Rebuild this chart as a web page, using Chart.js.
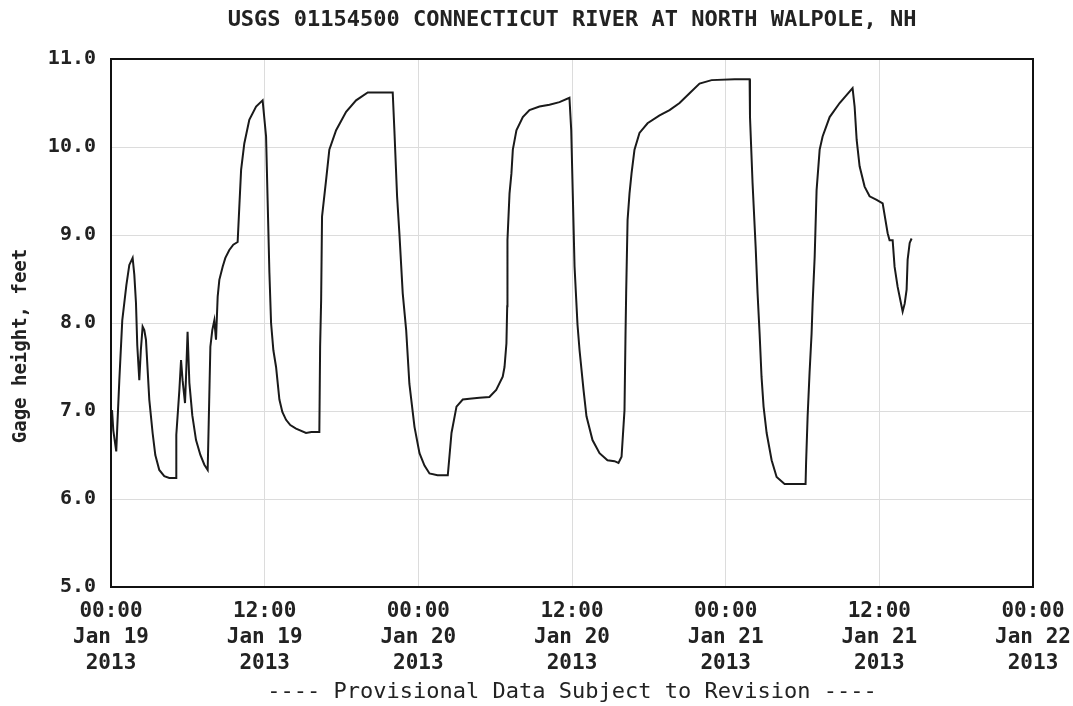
<!DOCTYPE html>
<html>
<head>
<meta charset="utf-8">
<script src="https://cdn.jsdelivr.net/npm/chart.js@4/dist/chart.umd.min.js"></script>
<style>
  html, body { margin: 0; padding: 0; background: #ffffff; }
  #wrap { width: 1073px; height: 706px; }
</style>
</head>
<body>
<div id="wrap"><canvas id="c" width="1073" height="706"></canvas></div>
<script>
// ---- Data (hours since 00:00 Jan 19 2013, gage height in feet) ----
const chartTitle = "USGS 01154500 CONNECTICUT RIVER AT NORTH WALPOLE, NH";
const yAxisTitle = "Gage height, feet";
const footerText = "---- Provisional Data Subject to Revision ----";

const hours = [
  0.08, 0.18, 0.41, 0.49, 0.65, 0.88, 1.2, 1.43, 1.69, 1.82, 1.95, 2.05, 2.21, 2.33, 2.47, 2.6, 2.73,
  2.99, 3.25, 3.46, 3.77, 4.16, 4.55, 5.08, 5.1, 5.34, 5.47, 5.59, 5.78, 5.88, 5.98, 6.12, 6.35, 6.64,
  6.98, 7.29, 7.55, 7.63, 7.76, 7.91, 8.07, 8.2, 8.33, 8.46, 8.72, 8.93, 9.24, 9.55, 9.89, 10.02, 10.16,
  10.41, 10.8, 11.33, 11.84, 12.11, 12.23, 12.37, 12.5, 12.68, 12.89, 13.15, 13.38, 13.67, 14.0, 14.45,
  15.23, 15.65, 16.27, 16.33, 16.41, 16.48, 16.8, 17.05, 17.58, 18.36, 19.14, 20.05, 22.0, 22.13, 22.34,
  22.52, 22.78, 23.05, 23.3, 23.7, 24.09, 24.48, 24.87, 25.5, 26.3, 26.59, 26.98, 27.47, 27.99, 28.77,
  29.55, 30.08, 30.59, 30.73, 30.88, 30.94, 30.96, 31.12, 31.27, 31.38, 31.66, 32.16, 32.68, 33.46,
  34.24, 35.02, 35.8, 35.94, 36.06, 36.2, 36.43, 36.59, 36.9, 37.13, 37.6, 38.15, 38.77, 39.32, 39.63,
  39.87, 40.1, 40.18, 40.23, 40.34, 40.49, 40.65, 40.88, 41.27, 41.9, 42.84, 43.62, 44.4, 45.18, 45.96,
  46.9, 48.7, 49.87, 49.9, 50.1, 50.34, 50.49, 50.65, 50.8, 50.96, 51.2, 51.59, 51.98, 52.6, 54.24,
  54.28, 54.4, 54.55, 54.71, 54.79, 54.95, 55.1, 55.34, 55.57, 56.12, 56.9, 57.91, 58.07, 58.23, 58.46,
  58.85, 59.24, 59.79, 60.26, 60.65, 60.8, 61.04, 61.19, 61.43, 61.82, 61.98, 62.13, 62.21, 62.37, 62.52
];

const gageHeight = [
  7.01, 6.78, 6.54, 6.82, 7.35, 8.03, 8.43, 8.66, 8.74, 8.55, 8.23, 7.75, 7.35, 7.69, 7.96, 7.92, 7.81,
  7.13, 6.75, 6.5, 6.33, 6.26, 6.24, 6.24, 6.73, 7.24, 7.58, 7.35, 7.09, 7.47, 7.9, 7.32, 6.95, 6.67,
  6.5, 6.39, 6.33, 6.86, 7.73, 7.92, 8.03, 7.81, 8.3, 8.49, 8.64, 8.74, 8.83, 8.89, 8.92, 9.32, 9.74,
  10.04, 10.31, 10.46, 10.53, 10.12, 9.4, 8.57, 8.0, 7.69, 7.5, 7.13, 6.99, 6.9, 6.84, 6.8,
  6.75, 6.76, 6.76, 7.73, 8.26, 9.21, 9.63, 9.97, 10.19, 10.4, 10.53, 10.62, 10.62, 10.19, 9.44,
  9.02, 8.34, 7.92, 7.31, 6.82, 6.52, 6.38, 6.29, 6.27, 6.27, 6.75, 7.05, 7.13, 7.14, 7.15,
  7.16, 7.24, 7.39, 7.5, 7.77, 8.19, 8.94, 9.47, 9.7, 9.97, 10.19, 10.34, 10.42, 10.46,
  10.48, 10.51, 10.56, 10.19, 9.47, 8.64, 7.98, 7.69, 7.24, 6.94, 6.67, 6.52, 6.44, 6.43, 6.41,
  6.48, 7.01, 7.88, 8.34, 9.17, 9.47, 9.7, 9.97, 10.16, 10.27, 10.36, 10.42, 10.5, 10.61, 10.72,
  10.76, 10.77, 10.77, 10.34, 9.59, 8.87, 8.34, 7.88, 7.39, 7.05, 6.75, 6.44, 6.25, 6.17, 6.17,
  6.41, 6.94, 7.43, 7.88, 8.22, 8.75, 9.51, 9.97, 10.12, 10.34, 10.5, 10.67, 10.46, 10.08, 9.78,
  9.55, 9.44, 9.4, 9.36, 9.02, 8.94, 8.94, 8.64, 8.41, 8.13, 8.22, 8.38, 8.72, 8.91, 8.96
];

const xTickHours = [0, 12, 24, 36, 48, 60, 72];
const xTickLabels = [
  ["00:00", "Jan 19", "2013"],
  ["12:00", "Jan 19", "2013"],
  ["00:00", "Jan 20", "2013"],
  ["12:00", "Jan 20", "2013"],
  ["00:00", "Jan 21", "2013"],
  ["12:00", "Jan 21", "2013"],
  ["00:00", "Jan 22", "2013"]
];
const yTickValues = [5, 6, 7, 8, 9, 10, 11];

// ---- Chart ----
const FONT = "'DejaVu Sans Mono', 'Liberation Mono', monospace";
const points = hours.map((h, i) => ({ x: h, y: gageHeight[i] }));

const yTitlePlugin = {
  id: 'yTitle',
  afterDraw(chart) {
    const ctx = chart.ctx;
    ctx.save();
    ctx.translate(21, 346);
    ctx.rotate(-Math.PI / 2);
    ctx.font = "bold 19px " + FONT;
    ctx.fillStyle = '#222';
    ctx.textAlign = 'center';
    ctx.textBaseline = 'middle';
    ctx.fillText(yAxisTitle, 0, 0);
    ctx.restore();
  }
};

const borderPlugin = {
  id: 'frame',
  afterDatasetsDraw(chart) {
    const a = chart.chartArea;
    const ctx = chart.ctx;
    ctx.save();
    ctx.strokeStyle = '#111';
    ctx.lineWidth = 2;
    ctx.strokeRect(a.left, a.top, a.right - a.left, a.bottom - a.top);
    ctx.restore();
  }
};

new Chart(document.getElementById('c'), {
  type: 'line',
  data: {
    datasets: [{
      data: points,
      borderColor: '#1a1a1a',
      borderWidth: 2,
      pointRadius: 0,
      tension: 0,
      fill: false
    }]
  },
  options: {
    responsive: false,
    animation: false,
    events: [],
    layout: { padding: { left: 0, right: 40, top: 0, bottom: 0 } },
    plugins: {
      legend: { display: false },
      tooltip: { enabled: false },
      title: {
        display: true,
        fullSize: false,
        text: chartTitle,
        color: '#222',
        font: { family: FONT, size: 22, weight: 'bold', lineHeight: 1.2 },
        padding: { top: 7, bottom: 25.6 }
      },
      subtitle: {
        display: true,
        fullSize: false,
        position: 'bottom',
        text: footerText,
        color: '#222',
        font: { family: FONT, size: 22, weight: 'normal', lineHeight: 1.2 },
        padding: { top: 4, bottom: 0.6 }
      }
    },
    scales: {
      x: {
        type: 'linear',
        min: 0,
        max: 72,
        afterBuildTicks(scale) {
          scale.ticks = xTickHours.map(v => ({ value: v }));
        },
        afterFit(scale) {
          scale.height = 88;
          scale.paddingLeft = 0;
          scale.paddingRight = 0;
        },
        ticks: {
          autoSkip: false,
          maxRotation: 0,
          padding: 11,
          color: '#222',
          font: { family: FONT, size: 21, weight: 'bold', lineHeight: 1.25 },
          callback(value) {
            const i = xTickHours.indexOf(value);
            return i >= 0 ? xTickLabels[i] : '';
          }
        },
        grid: { color: '#dcdcdc', lineWidth: 1, drawTicks: false },
        border: { display: false }
      },
      y: {
        type: 'linear',
        min: 5,
        max: 11,
        afterBuildTicks(scale) {
          scale.ticks = yTickValues.map(v => ({ value: v }));
        },
        afterFit(scale) { scale.width = 111; },
        ticks: {
          padding: 15,
          color: '#222',
          font: { family: FONT, size: 20, weight: 'bold' },
          callback(value) { return value.toFixed(1); }
        },
        grid: { color: '#dcdcdc', lineWidth: 1, drawTicks: false },
        border: { display: false }
      }
    }
  },
  plugins: [yTitlePlugin, borderPlugin]
});
</script>
</body>
</html>
